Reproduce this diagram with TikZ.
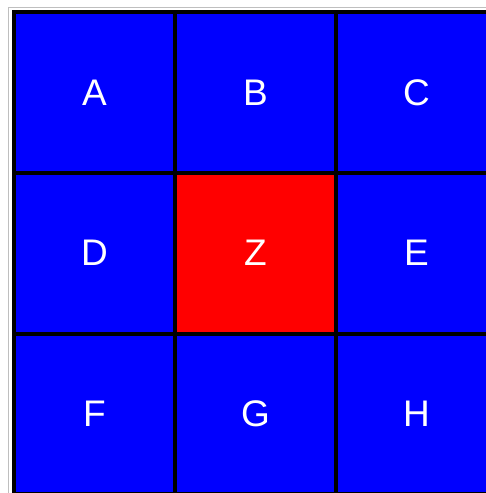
\documentclass[tikz,border=0pt]{standalone}
\usepackage{fontspec}
\setmainfont{Liberation Sans}
\begin{document}
\begin{tikzpicture}[x=1pt,y=-1pt,
  cell/.style={draw=black,line width=4pt,minimum width=161pt,minimum height=160.75pt,inner sep=0pt,
    text=white,font=\fontsize{37}{37}\selectfont,anchor=north west},
  bluecell/.style={cell,fill=blue},
  redcell/.style={cell,fill=red}]
\useasboundingbox (0,0) rectangle (486,493);
\begin{scope}
\clip (0,0) rectangle (486,493);
\draw[gray!50,line width=1pt] (8.5,493) -- (8.5,7.5) -- (486,7.5);
\node[bluecell] (A) at (12,10) {A};
\node[bluecell] (B) at (173,10) {B};
\node[bluecell] (C) at (334,10) {C};
\node[bluecell] (D) at (12,170.75) {D};
\node[redcell]  (Z) at (173,170.75) {Z};
\node[bluecell] (E) at (334,170.75) {E};
\node[bluecell] (F) at (12,331.5) {F};
\node[bluecell] (G) at (173,331.5) {G};
\node[bluecell] (H) at (334,331.5) {H};
\end{scope}
\end{tikzpicture}
\end{document}
